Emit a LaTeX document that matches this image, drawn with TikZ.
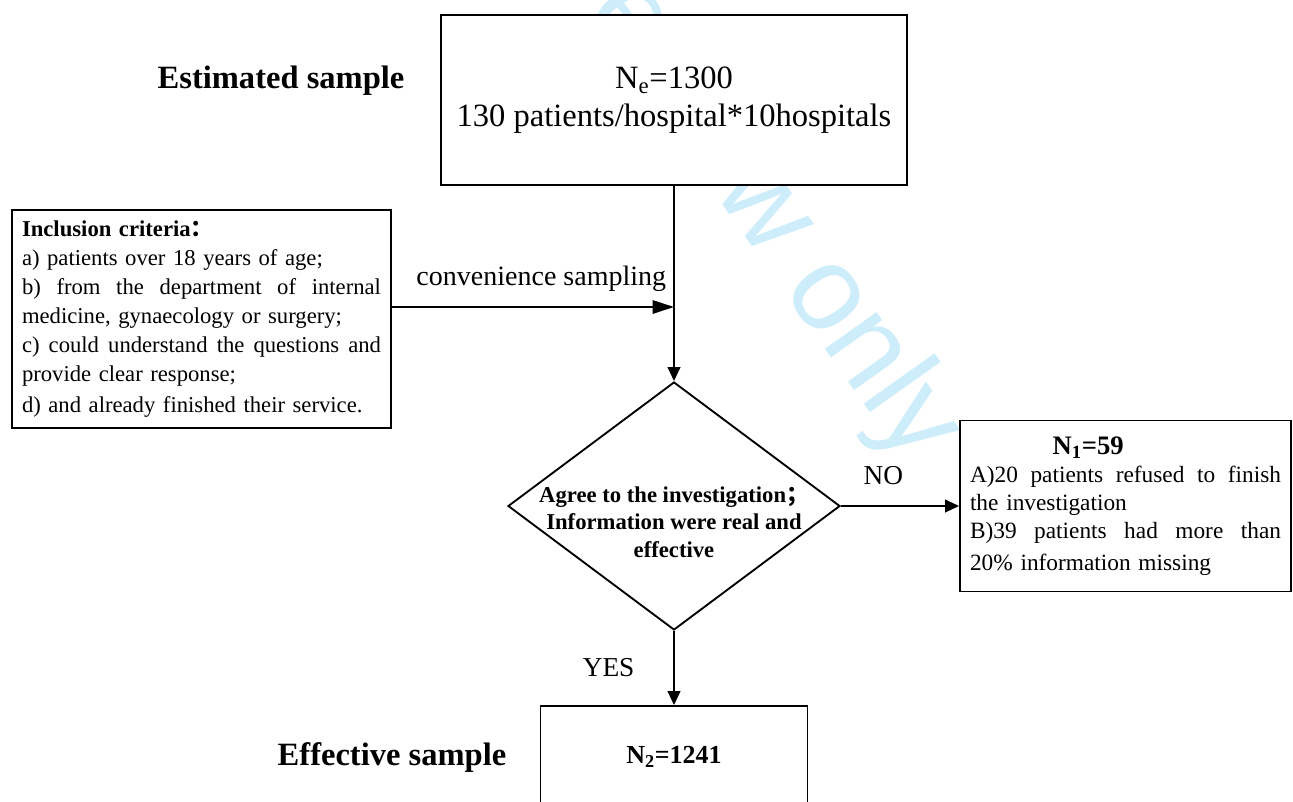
\documentclass[tikz,border=0pt]{standalone}
\usepackage{fontspec}
\setmainfont{Liberation Serif}
\newfontfamily\cjk{Noto Sans CJK SC}
\newfontfamily\wmarkfont{Liberation Sans}
\usetikzlibrary{arrows.meta,positioning,shapes.geometric}
\definecolor{wmark}{RGB}{205,237,251}

\begin{document}
\begin{tikzpicture} [x=0.75pt, y=-0.75pt, >={Triangle[length=10.5pt,width=9.5pt]},
                    line width=1.4pt,
                    main node/.style={rectangle,draw,fill=white,inner sep=0pt},
                    side text/.style={font=\fontsize{24.4}{28.5}\selectfont\bfseries}]
    \useasboundingbox (0,0) rectangle (1293,801);
    \node[text=wmark, rotate=-54.6, font=\wmarkfont\fontsize{90}{90}\selectfont] (0) at (620,7) {For peer review only};

    \node[main node, minimum width=349.5pt, minimum height=127.5pt, align=center,
          font=\fontsize{24.4}{28.5}\selectfont] (1) at (674,100)
          {N\textsubscript{e}=1300\\130 patients/hospital*10hospitals};
    \node[main node, text width=269.25pt, inner xsep=7.5pt, minimum height=163.5pt, align=left,
          font=\fontsize{17}{21.75}\selectfont] (2) at (201.5,319)
          {\textbf{Inclusion criteria{\cjk ：}}\\
           a) patients over 18 years of age;\\
           \makebox[269.25pt]{b)\hfill from\hfill the\hfill department\hfill of\hfill internal}\\
           medicine, gynaecology or surgery;\\
           \makebox[269.25pt]{c)\hfill could\hfill understand\hfill the\hfill questions\hfill and}\\
           provide clear response;\\[2pt]
           d) and already finished their service.};
    \node[diamond, draw, fill=white, inner sep=0pt, minimum width=249pt, minimum height=186pt]
          (3) [below of=1, node distance=304.5pt] {};
    \node[main node, text width=233.25pt, inner xsep=7.5pt, minimum height=128.25pt, align=left,
          font=\fontsize{17.5}{21}\selectfont] (4) [right of=3, node distance=338.625pt]
          {{\bfseries\fontsize{20}{21}\selectfont\hspace*{62pt}N\textsubscript{1}=59}\\
           \makebox[233.25pt]{A)20\hfill patients\hfill refused\hfill to\hfill finish}\\
           the investigation\\
           \makebox[233.25pt]{B)39\hfill patients\hfill had\hfill more\hfill than}\\[3pt]
           20\% information missing};
    \node[main node, minimum width=200.25pt, minimum height=76.5pt,
          font=\fontsize{19.5}{22}\selectfont\bfseries] (5) [below of=3, node distance=188.25pt]
          {N\textsubscript{2}=1241};
    \node[side text] (6) at (281,81) {Estimated sample};
    \node[side text] (7) [left of=5, node distance=211.5pt] {Effective sample};
    \node[font=\fontsize{17}{20.6}\selectfont\bfseries, align=center, yshift=-12pt] (9) at (3)
          {Agree to the investigation{\cjk ；}\\Information were real and\\effective};
    \coordinate (8) at (674,307);

    \path[->, every node/.style={font=\fontsize{20.5}{24}\selectfont, inner sep=0pt}]
    (1) edge (3)
    (2.east |- 8) edge [-{Triangle[length=16pt,width=10pt]}]
        node [pos=1, above left=11.25pt and 5.25pt, font=\fontsize{21}{24}\selectfont] {convenience sampling} (8)
    (3) edge node [pos=0.36, above=15pt] {NO} (4)
        edge node [left=29pt] {YES} (5);
\end{tikzpicture}
\end{document}
